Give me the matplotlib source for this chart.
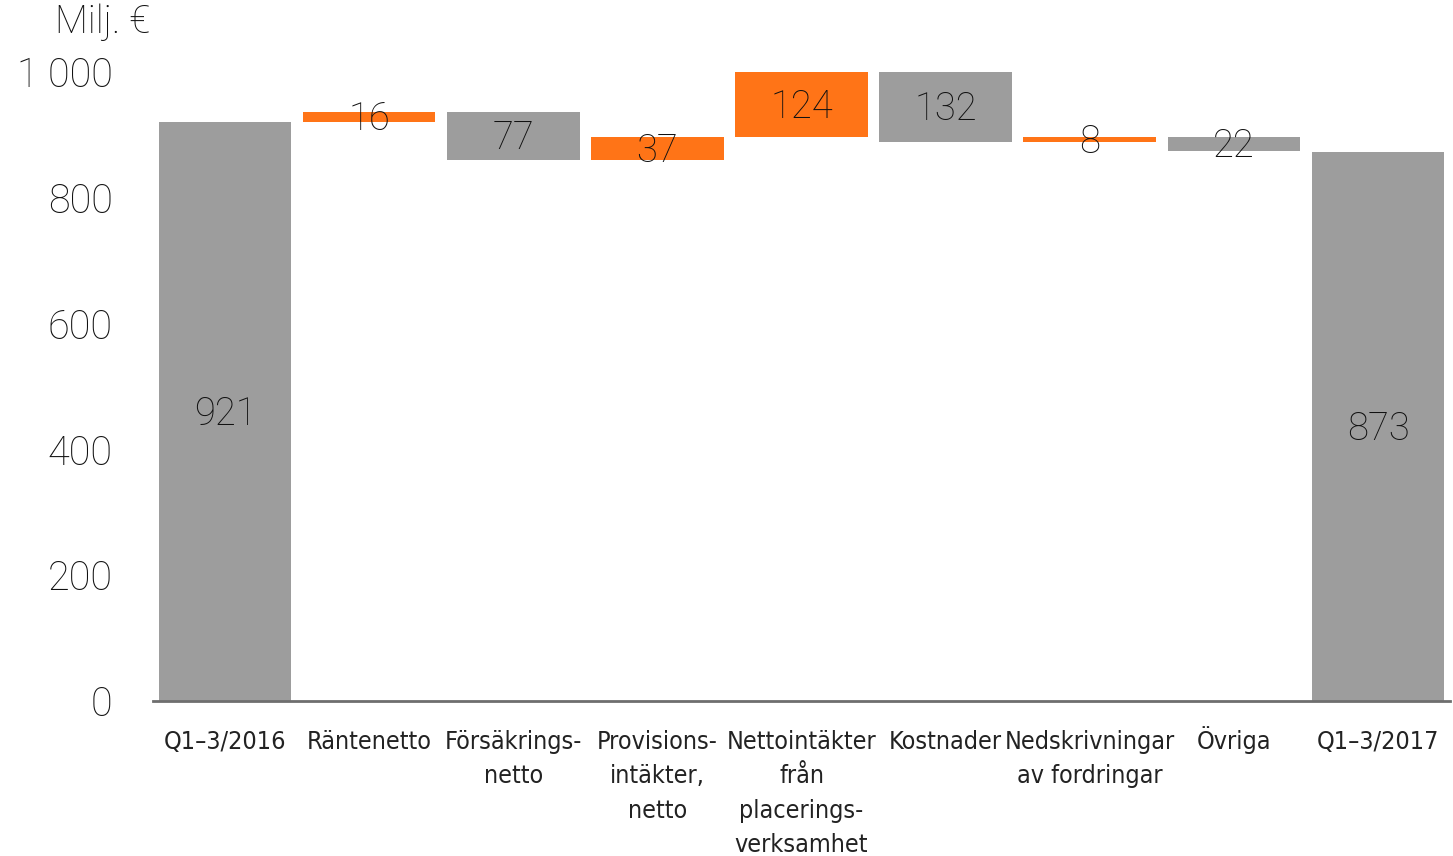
import numpy as np
import matplotlib.pyplot as plt
from matplotlib.ticker import FuncFormatter

# Chart data (Milj. €)
categories = ["Q1\u20133/2016", "Räntenetto", "Försäkrings-\nnetto",
              "Provisions-\nintäkter,\nnetto", "Nettointäkter\nfrån\nplacerings-\nverksamhet",
              "Kostnader", "Nedskrivningar\nav fordringar", "Övriga", "Q1\u20133/2017"]
start_value = 921
changes = [16, -77, 37, 124, -132, 8, -22]
end_value = 873
labels = ["921", "16", "77", "37", "124", "132", "8", "22", "873"]

orange = "#FF7417"
gray = "#9D9D9D"
text_color = "#111111"
ymax = 1000
num_font = dict(family="Roboto", weight="light")

# Build waterfall bottoms / tops
bottoms = [0]
tops = [start_value]
colors = [gray]
level = start_value
for c in changes:
    new = level + c
    bottoms.append(min(level, new))
    tops.append(max(level, new))
    colors.append(orange if c > 0 else gray)
    level = new
bottoms.append(0)
tops.append(end_value)
colors.append(gray)

bottoms = np.array(bottoms)
tops = np.array(tops)
x = np.arange(len(categories))

fig = plt.figure(figsize=(14.53, 8.56), dpi=100)
ax = fig.add_axes([0.1053, 0.181, 0.8927, 0.735])

ax.bar(x, tops - bottoms, bottom=bottoms, width=0.92, color=colors, zorder=2)

# value labels in the middle of the visible part of each bar
for xi, b, t, lab in zip(x, bottoms, tops, labels):
    mid = (min(b, ymax) + min(t, ymax)) / 2
    ax.annotate(lab, xy=(xi, mid), xytext=(0, -2), textcoords="offset points",
                ha="center", va="center", fontsize=27.5, color=text_color,
                zorder=3, **num_font)

ax.set_xlim(-0.5, len(categories) - 0.5)
ax.set_ylim(0, ymax)
ax.set_yticks([0, 200, 400, 600, 800, 1000])
ax.yaxis.set_major_formatter(FuncFormatter(lambda v, p: f"{int(v):,}".replace(",", " ")))
ax.tick_params(axis="y", length=0, pad=29, labelsize=28.5, labelcolor=text_color)
for t in ax.get_yticklabels():
    t.set_fontfamily("Roboto")
    t.set_fontweight("light")

# category labels, one line at a time so all share the same baseline
ax.set_xticks(x)
ax.set_xticklabels([])
ax.tick_params(axis="x", length=0)
for xi, cat in zip(x, categories):
    for j, line in enumerate(cat.split("\n")):
        ax.annotate(line, xy=(xi, 0), xycoords=("data", "axes fraction"),
                    xytext=(0, -34.5 - j * 24.7), textcoords="offset points",
                    ha="center", va="baseline", fontsize=18, color="#222222",
                    family="DejaVu Sans", stretch="condensed", annotation_clip=False)

for s in ["top", "right", "left"]:
    ax.spines[s].set_visible(False)
ax.spines["bottom"].set_color("#6e6e6e")
ax.spines["bottom"].set_linewidth(2)

fig.text(0.038, 0.974, "Milj. €", fontsize=27.5, va="center", ha="left",
         color=text_color, family=["Roboto", "DejaVu Sans"], weight="light")

fig.savefig("out.png", dpi=100)
